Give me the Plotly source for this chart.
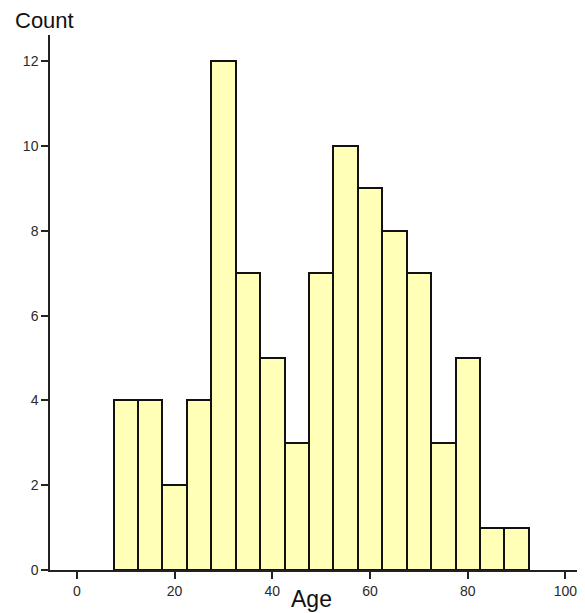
import plotly.graph_objects as go

bin_centers = [10, 15, 20, 25, 30, 35, 40, 45, 50, 55, 60, 65, 70, 75, 80, 85, 90]
counts = [4, 4, 2, 4, 12, 7, 5, 3, 7, 10, 9, 8, 7, 3, 5, 1, 1]
bin_width = 5
x_ticks = [0, 20, 40, 60, 80, 100]
y_ticks = [0, 2, 4, 6, 8, 10, 12]

fig = go.Figure()
fig.add_trace(go.Bar(
    x=bin_centers, y=counts, width=bin_width,
    marker=dict(color="#FFFFB8", line=dict(color="#111111", width=2)),
    hoverinfo="x+y",
))

# page body has an 8px margin; compensate so the plot area sits at page x 50..585, y 35..570
OFF = 8
L, R, T, B = 50 - OFF, 0, 35 - OFF, 43
W, H = 585 - OFF, 613 - OFF
pw, ph = W - L - R, H - T - B

def px_x(p):
    return (p - 50) / pw

def px_y(p):
    return (570 - p) / ph

fig.update_layout(
    width=W, height=H,
    margin=dict(l=L, r=R, t=T, b=B, pad=0),
    paper_bgcolor="white", plot_bgcolor="white",
    showlegend=False,
    bargap=0,
    font=dict(family="Liberation Sans, Arial, sans-serif", color="#222222"),
    xaxis=dict(
        range=[-5.5, 104], tickvals=x_ticks, ticks="outside", ticklen=7,
        tickwidth=2, tickcolor="#222222", showline=True, linecolor="#222222",
        linewidth=1.5, showgrid=False, zeroline=False, ticklabelstandoff=0,
        tickfont=dict(size=14, color="#2a2a2a"),
    ),
    yaxis=dict(
        range=[0, 12.62], tickvals=y_ticks, ticks="outside", ticklen=7,
        tickwidth=2, tickcolor="#222222", showline=True, linecolor="#222222",
        linewidth=1.5, showgrid=False, zeroline=False,
        tickfont=dict(size=14, color="#2a2a2a"),
    ),
    annotations=[
        dict(text="Count", xref="paper", yref="paper",
             x=px_x(13), y=px_y(20), xanchor="left", yanchor="middle",
             showarrow=False, font=dict(size=22, color="#111111")),
        dict(text="Age", xref="paper", yref="paper",
             x=px_x(311), y=px_y(599), xanchor="center", yanchor="middle",
             showarrow=False, font=dict(size=23, color="#111111")),
    ],
)

fig.write_html("out.html")
